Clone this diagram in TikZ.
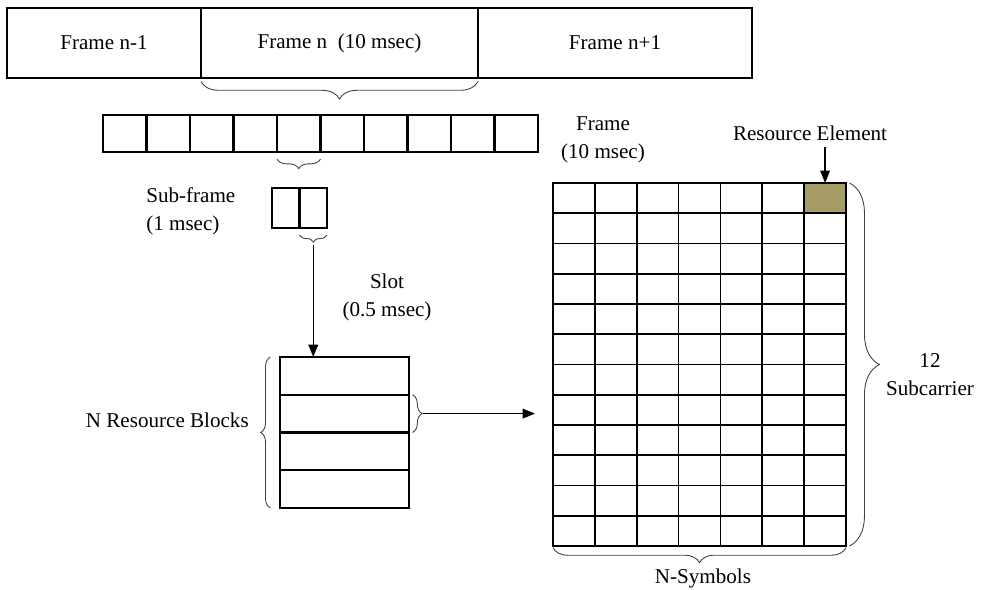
\documentclass[tikz,border=0pt]{standalone}
\usepackage{fontspec}
\setmainfont{Liberation Serif}
\usetikzlibrary{arrows.meta,decorations.pathreplacing}
\definecolor{reolive}{RGB}{166,156,102}

\begin{document}
\begin{tikzpicture}[x=0.02cm, y=-0.02cm, line width=0.5pt,
	font=\fontsize{12}{16}\selectfont,
	cell/.style={draw, rectangle, inner sep=0pt, outer sep=0pt},
	framecell/.style={cell, line width=1.4pt, minimum height=1.4cm},
	sfcell/.style={cell, line width=1.2pt, minimum width=0.87cm, minimum height=0.74cm},
	slotcell/.style={cell, line width=1.2pt, minimum width=0.55cm, minimum height=0.8cm},
	rbcell/.style={cell, line width=1.2pt, minimum width=2.58cm, minimum height=0.755cm},
	recell/.style={cell, line width=1pt, minimum width=0.837cm, minimum height=0.605cm},
	brc/.style={decorate, decoration={brace}, line width=0.5pt, black!75},
	arr/.style={-{Triangle[length=7pt,width=5.5pt]}, line width=0.7pt}]
	\useasboundingbox (0,0) rectangle (984,590);

	% frames
	\node[framecell, minimum width=3.88cm](frameprev) at (104,43){Frame n-1};
	\node[framecell, minimum width=5.54cm](framecur) at (339.5,43){Frame n\ \ (10 msec)};
	\node[framecell, minimum width=5.48cm](framenext) at (615,43){Frame n+1};
	\draw [brc, decoration={amplitude=10pt, raise=2pt, mirror}] (framecur.south west) -- (framecur.south east);

	% sub-frames
	\foreach \i in {1,...,10}
		\node[sfcell](sf\i) at ({103+43.5*(\i-0.5)},133.5){};
	\draw [brc, decoration={amplitude=5.5pt, raise=4pt, mirror}] (sf5.south west) -- (sf5.south east);
	\node[align=left, anchor=west](sublabel) at (140,211){Sub-frame\\(1 msec)};

	% slots
	\node[slotcell](slot1) at (285.75,208){};
	\node[slotcell](slot2) at (313.25,208){};
	\draw [brc, decoration={amplitude=4pt, raise=4pt, mirror}] (slot2.south west) -- (slot2.south east);
	\node[align=center](slotlabel) at (387,297){Slot\\(0.5 msec)};

	% resource blocks
	\foreach \i in {1,...,4}
		\node[rbcell](rb\i) at (344.5,{357+37.75*(\i-0.5)}){};
	\draw [brc, decoration={amplitude=5.5pt, raise=5.5pt}] (rb4.south west) -- (rb1.north west);
	\node[anchor=east](rblabel) at (255,420){N Resource Blocks};
	\draw [brc, decoration={amplitude=5.5pt, raise=2pt}] (rb2.north east) -- (rb2.south east);

	\coordinate (slottip) at ([yshift=-0.34cm]slot2.south);
	\draw [arr] (slottip) -- (slottip |- rb1.north);

	% resource grid
	\foreach \r in {1,...,12}
		\foreach \c in {1,...,7}{
			\ifnum\r=1 \ifnum\c=7 \def\refill{reolive}\else\def\refill{white}\fi\else\def\refill{white}\fi
			\node[recell, fill=\refill](re\r-\c) at ({553+41.86*(\c-0.5)},{183+30.25*(\r-0.5)}){};
		}
	\node[align=center](framelabel) at (603,140){Frame\\(10 msec)};
	\node(relabel) at (810,133){Resource Element};
	\draw [arr] (re1-7.north |- relabel.south) -- (re1-7.north);
	\draw [brc, decoration={amplitude=17pt, raise=2pt}] (re1-7.north east) -- (re12-7.south east);
	\node[align=center](sclabel) at (930,375){12\\Subcarrier};
	\draw [brc, decoration={amplitude=8.5pt, raise=1pt, mirror}] (re12-1.south west) -- (re12-7.south east);
	\node(symlabel) at (703,578){N-Symbols};

	\coordinate (rbtip) at ([xshift=8pt]rb2.east);
	\draw [arr, shorten >=0.36cm] (rbtip) -- (rbtip -| re8-1.west);
\end{tikzpicture}
\end{document}
